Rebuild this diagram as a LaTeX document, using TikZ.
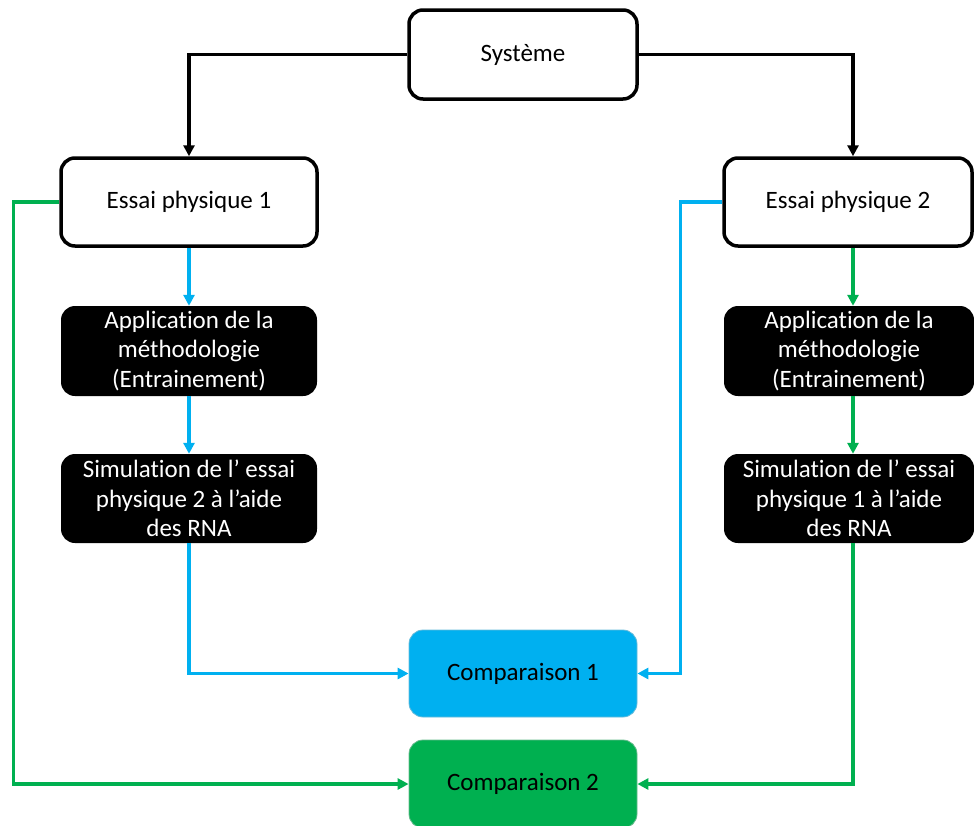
\documentclass[tikz,border=0pt]{standalone}
\usepackage{fontspec}
\setmainfont{Carlito}[Ligatures=NoCommon]
\usetikzlibrary{arrows.meta}
\definecolor{cy}{HTML}{00B0F0}
\definecolor{gr}{HTML}{00B050}
\begin{document}
\begin{tikzpicture}[x=1pt,y=-1pt,
  base/.style={rounded corners=14pt, align=center, inner sep=0pt,
    font=\fontsize{25}{29.5}\selectfont},
  wbox/.style={base, draw=black, line width=3.5pt, fill=white},
  bbox/.style={base, fill=black, text=white},
  cbox/.style={base, fill=#1, draw=#1!80!black!60!white, line width=0.8pt},
  conn/.style={line width=3.3pt, draw=#1, -{Triangle[length=11pt,width=11pt]}},
]
\useasboundingbox (0,0) rectangle (974,825);
\node[wbox, minimum width=228pt, minimum height=89pt] (sys) at (523,54.5) {Système};
\node[wbox, minimum width=256pt, minimum height=88pt] (e1) at (189,202) {Essai physique 1};
\node[wbox, minimum width=248pt, minimum height=88pt] (e2) at (848,202) {Essai physique 2};
\node[bbox, minimum width=256pt, minimum height=90pt] (a1) at (189,351) {Application de la\\méthodologie\\(Entrainement)};
\node[bbox, minimum width=256pt, minimum height=89pt] (s1) at (189,498.5) {Simulation de l’ essai\\physique 2 à l’aide\\des RNA};
\node[bbox, minimum width=250pt, minimum height=90pt] (a2) at (849,351) {Application de la\\méthodologie\\(Entrainement)};
\node[bbox, minimum width=250pt, minimum height=89pt] (s2) at (849,498.5) {Simulation de l’ essai\\physique 1 à l’aide\\des RNA};
\node[cbox=cy, minimum width=228pt, minimum height=87pt] (c1) at (523,673.5) {Comparaison 1};
\node[cbox=gr, minimum width=228pt, minimum height=88pt] (c2) at (523,784) {Comparaison 2};

\draw[conn=black] (sys.west) -| (e1.north);
\draw[conn=black] (sys.east) -| ([xshift=5pt]e2.north);
\draw[conn=cy] (e1.south) -- (a1.north);
\draw[conn=cy] (a1.south) -- (s1.north);
\draw[conn=cy] (s1.south) |- (c1.west);
\draw[conn=cy] (e2.west) -- ++(-42,0) |- (c1.east);
\draw[conn=gr] (e1.west) -- ++(-46,0) |- (c2.west);
\draw[conn=gr] ([xshift=5pt]e2.south) -- ([xshift=4pt]a2.north);
\draw[conn=gr] ([xshift=4pt]a2.south) -- ([xshift=4pt]s2.north);
\draw[conn=gr] ([xshift=4pt]s2.south) |- (c2.east);
\end{tikzpicture}
\end{document}
